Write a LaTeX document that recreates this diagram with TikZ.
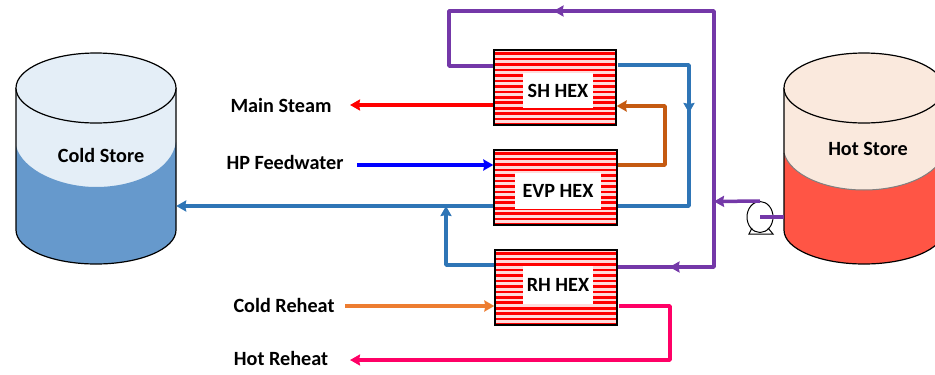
\documentclass[tikz,border=0pt]{standalone}
\usepackage{fontspec}
\setmainfont{Carlito}
\usetikzlibrary{arrows.meta,decorations.markings,shapes.geometric}
\definecolor{cpurple}{HTML}{7438A8}
\definecolor{cblue}{HTML}{2E75B6}
\definecolor{cbrown}{HTML}{C55A11}
\definecolor{corange}{HTML}{ED7D31}
\definecolor{cpink}{HTML}{FF0066}
\definecolor{coldtop}{HTML}{E4EEF7}
\definecolor{coldliq}{HTML}{6699CC}
\definecolor{hottop}{HTML}{FAE9DD}
\definecolor{hotliq}{HTML}{FF5545}
\tikzset{
  x=1pt,y=-1pt,
  txt/.style={font=\bfseries\fontsize{20.2}{22}\selectfont,inner sep=0pt,text=black},
  hextxt/.style={txt,fill=white,inner sep=0pt,minimum height=35pt},
  hexbox/.style={draw=black,line width=1.3pt,rectangle,minimum height=75pt,inner sep=0pt,minimum width=122pt},
  pipe/.style={line width=3.5pt,line join=round},
  tipp/.style={-{Stealth[length=10pt,width=11pt,inset=1pt]}},
  midtip/.style={postaction={decorate},decoration={markings,mark=at position #1pt with {\arrow{Stealth[length=10pt,width=11pt,inset=1pt]}}}},
  tank/.style={draw=black,line width=1.2pt},
  pumpline/.style={draw=black,line width=1pt}
}
\newcommand{\stripes}[4]{% x1 y1 x2 y2
  \begin{scope}
    \clip (#1,#2) rectangle (#3,#4);
    \fill[red!14] (#1,#2) rectangle (#3,#4);
    \foreach \s in {0,...,14}{
      \fill[red] (#1,#2+2.4+5.45*\s) rectangle (#3,#2+5+5.45*\s);
    }
  \end{scope}}
\begin{document}
\begin{tikzpicture}
\useasboundingbox (0,0) rectangle (935,375);
% Cold store
\fill[coldtop] (16,88) -- (16,230) -- (176,230) -- (176,88) -- cycle;
\fill[coldliq] (16,146) .. controls (22,170) and (60,187) .. (96,187) .. controls (135,187) and (172,170) .. (176,142) -- (176,230) .. controls (176,249) and (140,264) .. (96,264) .. controls (52,264) and (16,249) .. (16,230) -- cycle;
\draw[tank] (16,88) -- (16,230) .. controls (16,249) and (52,264) .. (96,264) .. controls (140,264) and (176,249) .. (176,230) -- (176,88);
\draw[tank,fill=coldtop] (96,88) ellipse [x radius=80,y radius=35];
\node[minimum width=160pt,minimum height=211pt,inner sep=0pt] (coldbody) at (96,158.5) {};
\node[txt] (coldlabel) at (101,155) {Cold Store};
% Hot store
\begin{scope}
\clip (0,0) rectangle (935,375);
\fill[hottop] (784,88) -- (784,230) -- (944,230) -- (944,88) -- cycle;
\fill[hotliq] (784,153) .. controls (790,175) and (825,190) .. (864,190) .. controls (903,190) and (938,175) .. (944,153) -- (944,230) .. controls (944,249) and (908,264) .. (864,264) .. controls (820,264) and (784,249) .. (784,230) -- cycle;
\draw[gray,line width=1pt] (784,153) .. controls (790,175) and (825,190) .. (864,190) .. controls (903,190) and (938,175) .. (944,153);
\draw[tank] (784,88) -- (784,230) .. controls (784,249) and (820,264) .. (864,264) .. controls (908,264) and (944,249) .. (944,230) -- (944,88);
\draw[tank,fill=hottop] (864,88) ellipse [x radius=80,y radius=35];
\end{scope}
\node[minimum width=160pt,minimum height=211pt,inner sep=0pt] (hotbody) at (864,158.5) {};
\node[txt] (hotlabel) at (868,149) {Hot Store};
% Heat exchangers
\stripes{494}{50}{616}{125}
\stripes{494}{150}{617}{225}
\stripes{495}{250}{617}{325}
\node[hexbox] (shbox) at (555,87.5) {};
\node[hexbox,minimum width=123pt] (evpbox) at (555.5,187.5) {};
\node[hexbox] (rhbox) at (556,287.5) {};
\node[hextxt,minimum width=70pt] (shtext) at (558,90.5) {SH HEX};
\node[hextxt,minimum width=86pt,minimum height=36pt] (evptext) at (558,191) {EVP HEX};
\node[hextxt,minimum width=70pt,minimum height=38pt] (rhtext) at (558,285) {RH HEX};
% Labels
\node[txt] (mainsteam) at (281,105) {Main Steam};
\node[txt] (feedwater) at (285,162) {HP Feedwater};
\node[txt] (coldreheat) at (284,305) {Cold Reheat};
\node[txt] (hotreheat) at (281,358) {Hot Reheat};
% Pump
\node[draw=black,line width=1pt,ellipse,minimum width=26pt,minimum height=31pt,inner sep=0pt] (pump) at (760,217) {};
\draw[pumpline] (752,228) -- (749,234) -- (773,234) -- (768,228);
% Junctions
\coordinate (hotjoin) at (714,201.5);
\coordinate (coldjoin) at (446,206);
% Purple
\draw[pipe,cpurple] (hotbody.west |- 0,217) -- (pump.center);
\draw[pipe,cpurple,tipp] (pump.north) -- (hotjoin);
\draw[pipe,cpurple,midtip=351] (hotjoin) -- (714,11) -- (449,11) -- (449,66) -- (shbox.west |- 0,66);
\draw[pipe,cpurple,midtip=110] (hotjoin) -- (714,267) -- (rhbox.east |- 0,267);
% Blue
\draw[pipe,cblue,midtip=119] (618,65) -- (689,65) -- (689,206) -- (618,206);
\draw[pipe,cblue,tipp] (evpbox.west |- coldjoin) -- (coldbody.east |- coldjoin);
\draw[pipe,cblue,tipp] (rhbox.west |- 0,265) -- (446,265) -- (coldjoin);
% Brown
\draw[pipe,cbrown,tipp] (evpbox.east |- 0,165) -- (665,165) -- (665,106) -- (shbox.east |- 0,106);
% Main steam etc.
\draw[pipe,red,tipp] (shbox.west |- 0,105) -- (350,105);
\draw[pipe,blue,tipp] (357,165) -- (evpbox.west |- 0,165);
\draw[pipe,corange,tipp] (345,306) -- (rhbox.west |- 0,306);
\draw[pipe,cpink,tipp] (619,306) -- (670,306) -- (670,360) -- (350,360);
\end{tikzpicture}
\end{document}
